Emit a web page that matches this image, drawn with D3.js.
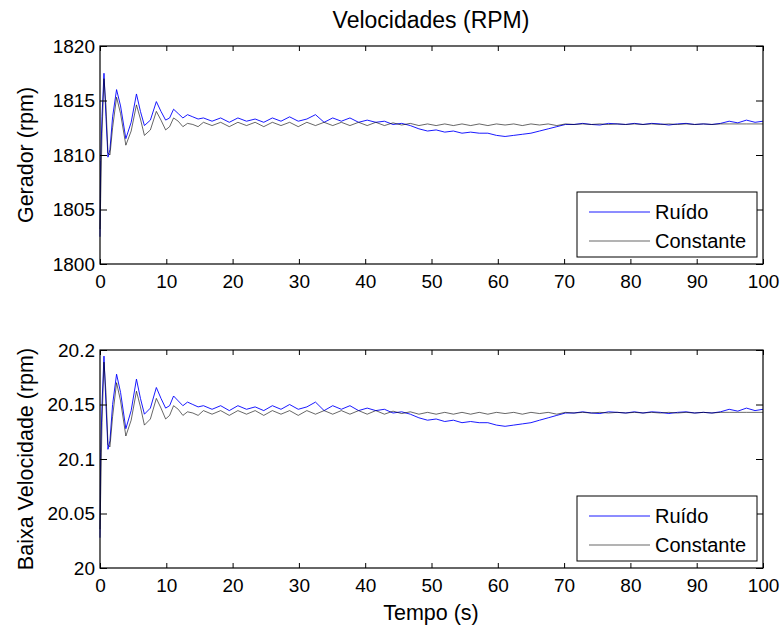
<!DOCTYPE html>
<html>
<head>
<meta charset="utf-8">
<script src="https://cdn.jsdelivr.net/npm/d3@7"></script>
<style>
  body { margin: 0; background: #fff; }
  text { font-family: "Liberation Sans", Arial, sans-serif; fill: #000; }
</style>
</head>
<body>
<div id="chart"></div>
<script>
// tempo (s)
var tempo = [0, 0.1, 0.3, 0.6, 0.9, 1.2, 1.5, 1.9, 2.5, 3.1, 3.9, 4.7, 5.5, 6.1, 6.7, 7.6, 8.5, 9.2, 9.9, 10.5, 11.1, 11.8, 12.5, 13.2, 14.0, 14.8,
  15.6, 16.9, 18.2, 19.5, 20.8, 22.1, 23.4, 24.7, 26.0, 27.3, 28.6, 29.9, 31.2, 32.5, 33.8, 35.1, 36.4, 37.7, 39.0, 40.3, 41.6, 42.9,
  44.2, 45.5, 46.8, 48.1, 49.4, 50.7, 52.0, 53.3, 54.6, 55.9, 57.2, 58.5, 59.8, 61.1, 62.4, 63.7, 65.0, 66.3, 67.6, 68.9, 70.2, 71.5,
  72.8, 74.1, 75.4, 76.7, 78.0, 79.3, 80.6, 81.9, 83.2, 84.5, 85.8, 87.1, 88.4, 89.7, 91.0, 92.3, 93.6, 94.9, 96.2, 97.5, 98.8, 100];

// gerador (rpm)
var geradorRuido = [1802.5, 1809.5, 1813.5, 1817.5, 1813.5, 1809.8, 1810.5, 1813.5, 1816.0, 1814.5, 1811.5, 1813.0, 1815.6, 1814.0, 1812.7, 1813.2, 1814.9, 1814.0, 1813.2, 1813.4, 1814.2, 1813.8, 1813.4, 1813.7, 1813.5, 1813.3,
  1813.4, 1813.1, 1813.4, 1813.0, 1813.4, 1813.1, 1813.3, 1813.0, 1813.4, 1813.1, 1813.5, 1813.1, 1813.3, 1813.7, 1813.0, 1813.4, 1813.1, 1813.4, 1813.0, 1813.2, 1813.0, 1813.1,
  1812.8, 1812.9, 1812.7, 1812.4, 1812.2, 1812.3, 1812.1, 1812.2, 1812.0, 1812.1, 1812.0, 1812.0, 1811.8, 1811.7, 1811.8, 1811.9, 1812.0, 1812.2, 1812.4, 1812.6, 1812.8, 1812.8,
  1812.9, 1812.8, 1812.75, 1812.9, 1812.85, 1812.8, 1812.9, 1812.8, 1812.9, 1812.85, 1812.75, 1812.85, 1812.9, 1812.8, 1812.85, 1812.8, 1812.9, 1813.1, 1812.95, 1813.2, 1813.0, 1813.1];
var geradorConst = [1803.2, 1806.0, 1812.0, 1817.0, 1814.5, 1810.2, 1810.0, 1812.5, 1815.3, 1813.8, 1810.9, 1812.2, 1814.6, 1813.3, 1811.8, 1812.3, 1814.0, 1813.2, 1812.3, 1812.6, 1813.4, 1813.1, 1812.6, 1812.9, 1812.8, 1812.6,
  1813.0, 1812.7, 1813.0, 1812.6, 1813.0, 1812.7, 1813.0, 1812.6, 1813.0, 1812.7, 1813.0, 1812.6, 1813.0, 1812.7, 1813.0, 1812.7, 1813.0, 1812.7, 1813.0, 1812.7, 1813.0, 1812.7,
  1812.95, 1812.75, 1812.9, 1812.7, 1812.85, 1812.7, 1812.85, 1812.7, 1812.85, 1812.7, 1812.85, 1812.7, 1812.85, 1812.75, 1812.85, 1812.7, 1812.85, 1812.75, 1812.85, 1812.7, 1812.85, 1812.8,
  1812.85, 1812.8, 1812.85, 1812.8, 1812.85, 1812.8, 1812.85, 1812.8, 1812.85, 1812.8, 1812.85, 1812.8, 1812.85, 1812.8, 1812.85, 1812.8, 1812.85, 1812.85, 1812.85, 1812.85, 1812.85, 1812.85];

// baixa velocidade (rpm)
var baixaRuido = [20.0278, 20.1056, 20.15, 20.1944, 20.15, 20.1089, 20.1167, 20.15, 20.1778, 20.1611, 20.1278, 20.1444, 20.1733, 20.1556, 20.1411, 20.1467, 20.1656, 20.1556, 20.1467, 20.1489, 20.1578, 20.1533, 20.1489, 20.1522, 20.15, 20.1478,
  20.1489, 20.1456, 20.1489, 20.1444, 20.1489, 20.1456, 20.1478, 20.1444, 20.1489, 20.1456, 20.15, 20.1456, 20.1478, 20.1522, 20.1444, 20.1489, 20.1456, 20.1489, 20.1444, 20.1467, 20.1444, 20.1456,
  20.1422, 20.1433, 20.1411, 20.1378, 20.1356, 20.1367, 20.1344, 20.1356, 20.1333, 20.1344, 20.1333, 20.1333, 20.1311, 20.13, 20.1311, 20.1322, 20.1333, 20.1356, 20.1378, 20.14, 20.1422, 20.1422,
  20.1433, 20.1422, 20.1417, 20.1433, 20.1428, 20.1422, 20.1433, 20.1422, 20.1433, 20.1428, 20.1417, 20.1428, 20.1433, 20.1422, 20.1428, 20.1422, 20.1433, 20.1456, 20.1439, 20.1467, 20.1444, 20.1456];
var baixaConst = [20.0356, 20.0667, 20.1333, 20.1889, 20.1611, 20.1133, 20.1111, 20.1389, 20.17, 20.1533, 20.1211, 20.1356, 20.1622, 20.1478, 20.1311, 20.1367, 20.1556, 20.1467, 20.1367, 20.14, 20.1489, 20.1456, 20.14, 20.1433, 20.1422, 20.14,
  20.1444, 20.1411, 20.1444, 20.14, 20.1444, 20.1411, 20.1444, 20.14, 20.1444, 20.1411, 20.1444, 20.14, 20.1444, 20.1411, 20.1444, 20.1411, 20.1444, 20.1411, 20.1444, 20.1411, 20.1444, 20.1411,
  20.1439, 20.1417, 20.1433, 20.1411, 20.1428, 20.1411, 20.1428, 20.1411, 20.1428, 20.1411, 20.1428, 20.1411, 20.1428, 20.1417, 20.1428, 20.1411, 20.1428, 20.1417, 20.1428, 20.1411, 20.1428, 20.1422,
  20.1428, 20.1422, 20.1428, 20.1422, 20.1428, 20.1422, 20.1428, 20.1422, 20.1428, 20.1422, 20.1428, 20.1422, 20.1428, 20.1422, 20.1428, 20.1422, 20.1428, 20.1428, 20.1428, 20.1428, 20.1428, 20.1428];

var xTicks = [0, 10, 20, 30, 40, 50, 60, 70, 80, 90, 100];
var geradorTicks = [1800, 1805, 1810, 1815, 1820];
var baixaTicks = [20, 20.05, 20.1, 20.15, 20.2];
var legendLabels = ["Ruído", "Constante"];
var seriesColors = ["#0000ff", "#000000"];

var width = 782, height = 630;
var svg = d3.select("#chart").append("svg")
    .attr("width", width)
    .attr("height", height);

var xScale = d3.scaleLinear().domain([0, 100]).range([100, 763]);

function drawPanel(top, bottom, yDomain, yTicks, yLabel, s1, s2) {
    var yScale = d3.scaleLinear().domain(yDomain).range([bottom, top]);
    var g = svg.append("g");

    var line = d3.line()
        .x(function(d) { return xScale(d[0]); })
        .y(function(d) { return yScale(d[1]); });

    // blue first, black drawn over it
    [s1, s2].forEach(function(s, i) {
        g.append("path")
            .datum(tempo.map(function(t, k) { return [t, s[k]]; }))
            .attr("d", line)
            .attr("fill", "none")
            .attr("stroke", seriesColors[i])
            .attr("stroke-width", i == 0 ? 0.9 : 0.6);
    });

    // axes with inner ticks on all four sides
    g.append("g").attr("transform", "translate(0," + bottom + ")")
        .call(d3.axisBottom(xScale).tickValues(xTicks).tickSizeInner(-5).tickSizeOuter(0).tickPadding(11))
        .call(function(a) { a.select(".domain").remove(); });
    g.append("g").attr("transform", "translate(0," + top + ")")
        .call(d3.axisTop(xScale).tickValues(xTicks).tickSizeInner(-5).tickSizeOuter(0).tickFormat(""))
        .call(function(a) { a.select(".domain").remove(); });
    g.append("g").attr("transform", "translate(100,0)")
        .call(d3.axisLeft(yScale).tickValues(yTicks).tickSizeInner(-7).tickSizeOuter(0).tickPadding(5).tickFormat(d3.format("")))
        .call(function(a) { a.select(".domain").remove(); });
    g.append("g").attr("transform", "translate(763,0)")
        .call(d3.axisRight(yScale).tickValues(yTicks).tickSizeInner(-7).tickSizeOuter(0).tickFormat(""))
        .call(function(a) { a.select(".domain").remove(); });

    g.selectAll(".tick text").style("font-size", "19px").attr("fill", "#000");
    g.selectAll(".tick line").attr("stroke", "#000");

    g.append("rect")
        .attr("x", 100).attr("y", top)
        .attr("width", 663).attr("height", bottom - top)
        .attr("fill", "none").attr("stroke", "#000").attr("stroke-width", 1.2);

    g.append("text")
        .attr("transform", "translate(33," + (top + bottom) / 2 + ") rotate(-90)")
        .attr("text-anchor", "middle")
        .style("font-size", "21.5px")
        .text(yLabel);

    // legend
    var lg = g.append("g").attr("transform", "translate(577," + (bottom - 72) + ")");
    lg.append("rect").attr("width", 180).attr("height", 65)
        .attr("fill", "#fff").attr("stroke", "#000").attr("stroke-width", 1);
    legendLabels.forEach(function(lab, i) {
        var y = 20 + i * 29;
        lg.append("line").attr("x1", 12).attr("x2", 73).attr("y1", y).attr("y2", y)
            .attr("stroke", seriesColors[i]).attr("stroke-width", i == 0 ? 0.9 : 0.6);
        lg.append("text").attr("x", 78).attr("y", y).attr("dy", "0.35em")
            .style("font-size", "20px").text(lab);
    });
}

drawPanel(46, 264, [1800, 1820], geradorTicks, "Gerador (rpm)", geradorRuido, geradorConst);
drawPanel(350, 568, [20, 20.2], baixaTicks, "Baixa Velocidade (rpm)", baixaRuido, baixaConst);

svg.append("text")
    .attr("x", 431).attr("y", 28)
    .attr("text-anchor", "middle")
    .style("font-size", "23px")
    .text("Velocidades (RPM)");

svg.append("text")
    .attr("x", 431).attr("y", 620)
    .attr("text-anchor", "middle")
    .style("font-size", "21.5px")
    .text("Tempo (s)");
</script>
</body>
</html>
